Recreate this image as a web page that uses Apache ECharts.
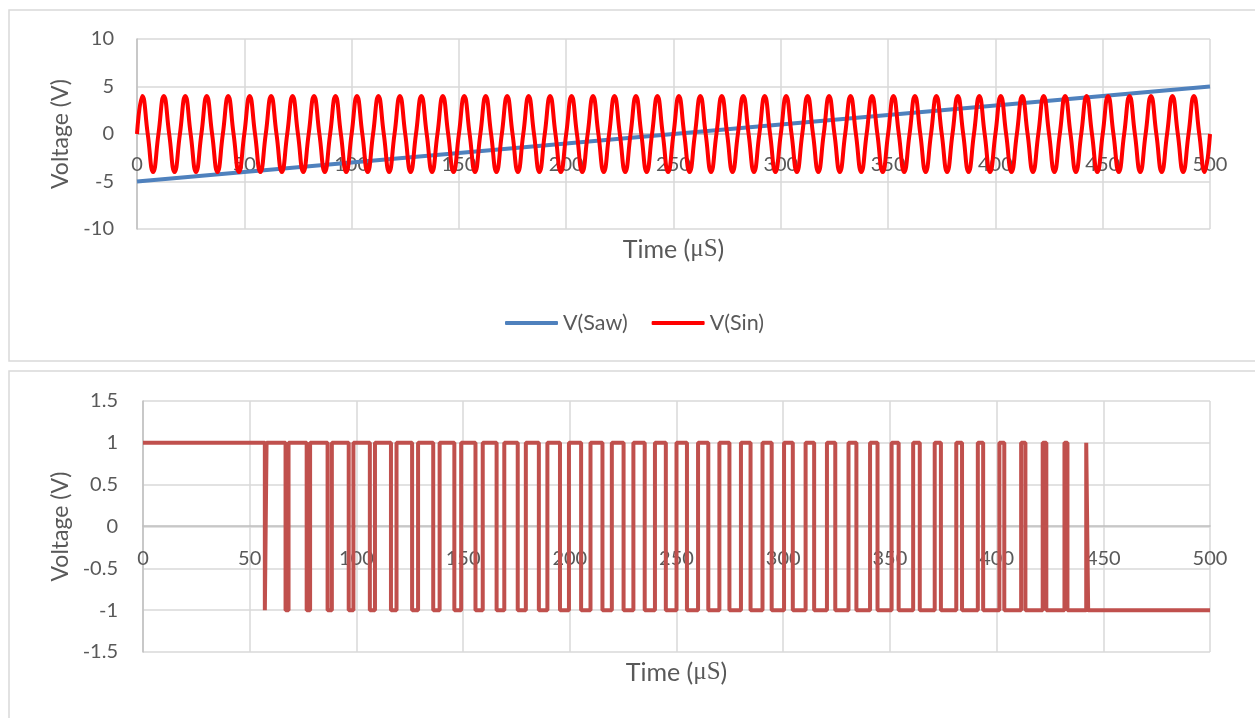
<!DOCTYPE html>
<html>
<head>
<meta charset="utf-8">
<script src="https://cdn.jsdelivr.net/npm/echarts@6/dist/echarts.min.js"></script>
<style>
  html, body { margin: 0; padding: 0; background: #ffffff; }
  #chart { width: 1255px; height: 718px; }
</style>
</head>
<body>
<div id="chart"></div>
<script>
// ---- data ----
const seriesNames = ['V(Saw)', 'V(Sin)'];

// sawtooth ramp: endpoints (time in µs, volts)
const sawTime = [0, 500];
const sawValues = [-5, 5];

// sine samples, one every quarter period (2.5 µs), 50 cycles over 0..500 µs
const sinStep = 2.5;
const sinValues = [
  0,4,0,-4, 0,4,0,-4, 0,4,0,-4, 0,4,0,-4, 0,4,0,-4,
  0,4,0,-4, 0,4,0,-4, 0,4,0,-4, 0,4,0,-4, 0,4,0,-4,
  0,4,0,-4, 0,4,0,-4, 0,4,0,-4, 0,4,0,-4, 0,4,0,-4,
  0,4,0,-4, 0,4,0,-4, 0,4,0,-4, 0,4,0,-4, 0,4,0,-4,
  0,4,0,-4, 0,4,0,-4, 0,4,0,-4, 0,4,0,-4, 0,4,0,-4,
  0,4,0,-4, 0,4,0,-4, 0,4,0,-4, 0,4,0,-4, 0,4,0,-4,
  0,4,0,-4, 0,4,0,-4, 0,4,0,-4, 0,4,0,-4, 0,4,0,-4,
  0,4,0,-4, 0,4,0,-4, 0,4,0,-4, 0,4,0,-4, 0,4,0,-4,
  0,4,0,-4, 0,4,0,-4, 0,4,0,-4, 0,4,0,-4, 0,4,0,-4,
  0,4,0,-4, 0,4,0,-4, 0,4,0,-4, 0,4,0,-4, 0,4,0,-4,
  0
];

// comparator output: starts high, toggles at each of these times (µs)
const pwmStartLevel = 1;
const pwmEnd = 500;
const pwmEdges = [
  57.1, 57.9,   66.8, 68.2,   76.7, 78.3,   86.5, 88.5,   96.4, 98.6,
  106.3, 108.7, 116.2, 118.8, 126.1, 128.9, 136.0, 139.0, 145.9, 149.1,
  155.8, 159.2, 165.7, 169.3, 175.6, 179.4, 185.5, 189.5, 195.4, 199.6,
  205.3, 209.7, 215.3, 219.7, 225.2, 229.8, 235.1, 239.9, 245.0, 250.0,
  254.9, 260.1, 264.9, 270.1, 274.8, 280.2, 284.7, 290.3, 294.6, 300.4,
  304.5, 310.5, 314.5, 320.5, 324.4, 330.6, 334.3, 340.7, 344.2, 350.8,
  354.1, 360.9, 364.0, 371.0, 373.9, 381.1, 383.8, 391.2, 393.7, 401.3,
  403.6, 411.5, 413.5, 421.6, 423.3, 431.8, 433.2, 442.0, 442.9
];

// ---- build series points ----
const sawData = sawTime.map((t, i) => [t, sawValues[i]]);
const sinData = sinValues.map((v, i) => [i * sinStep, v]);

const pwmData = [[0, pwmStartLevel]];
let level = pwmStartLevel;
pwmEdges.forEach(t => {
  pwmData.push([t, level]);
  level = -level;
  pwmData.push([t, level]);
});
pwmData.push([pwmEnd, level]);

// ---- styling ----
const FONT = 'Lato, "Noto Sans", sans-serif';
const SERIF = '"Liberation Serif", "DejaVu Serif", serif';
const TEXT = '#595959';
const GRID_LINE = '#d9d9d9';
const AXIS_LINE = '#bfbfbf';

// time axis drawn across the 0 V level of its panel (offset lifts it from the bottom edge)
function timeAxis(gridIndex, zeroOffset, labelMargin, nameGap) {
  return {
    gridIndex: gridIndex,
    type: 'value',
    position: 'bottom',
    offset: zeroOffset,
    min: 0, max: 500, interval: 50,
    axisLine: { show: true, onZero: false, lineStyle: { color: AXIS_LINE, width: 1.5 } },
    axisTick: { show: false },
    axisLabel: { color: TEXT, fontSize: 20, fontFamily: FONT, margin: labelMargin },
    splitLine: { show: true, lineStyle: { color: GRID_LINE, width: 1.5 } },
    name: 'Time ({m|μS})',
    nameLocation: 'middle',
    nameGap: nameGap,
    nameTextStyle: {
      color: TEXT, fontSize: 25, fontFamily: FONT,
      rich: { m: { color: TEXT, fontSize: 25, fontFamily: SERIF } }
    }
  };
}

function voltAxis(gridIndex, min, max, interval, labelMargin, nameGap) {
  return {
    gridIndex: gridIndex,
    type: 'value',
    min: min, max: max, interval: interval,
    axisLine: { show: true, onZero: false, lineStyle: { color: AXIS_LINE, width: 1.5 } },
    axisTick: { show: false },
    axisLabel: { color: TEXT, fontSize: 20, fontFamily: FONT, margin: labelMargin },
    splitLine: { show: true, lineStyle: { color: GRID_LINE, width: 1.5 } },
    name: 'Voltage (V)',
    nameLocation: 'middle',
    nameGap: nameGap,
    nameTextStyle: { color: TEXT, fontSize: 23, fontFamily: FONT }
  };
}

const chart = echarts.init(document.getElementById('chart'), null, { renderer: 'canvas' });

chart.setOption({
  backgroundColor: '#ffffff',
  animation: false,
  graphic: [
    { type: 'rect', silent: true, z: -10,
      shape: { x: 9, y: 10, width: 1260, height: 351 },
      style: { fill: 'none', stroke: GRID_LINE, lineWidth: 1.5 } },
    { type: 'rect', silent: true, z: -10,
      shape: { x: 9, y: 371, width: 1260, height: 360 },
      style: { fill: 'none', stroke: GRID_LINE, lineWidth: 1.5 } }
  ],
  legend: {
    data: seriesNames,
    left: 505,
    top: 312,
    padding: 0,
    itemGap: 24,
    itemWidth: 53,
    itemHeight: 4,
    icon: 'roundRect',
    textStyle: { color: TEXT, fontSize: 21.5, fontFamily: FONT }
  },
  grid: [
    { left: 137, right: 45, top: 39, height: 190 },
    { left: 143, right: 45, top: 401, height: 251 }
  ],
  xAxis: [
    timeAxis(0, -95, 21, 103),
    timeAxis(1, -126, 23, 134)
  ],
  yAxis: [
    voltAxis(0, -10, 10, 5, 23, 64),
    voltAxis(1, -1.5, 1.5, 0.5, 25, 70)
  ],
  series: [
    {
      name: seriesNames[0], type: 'line', xAxisIndex: 0, yAxisIndex: 0,
      data: sawData, showSymbol: false, symbol: 'none',
      lineStyle: { color: '#4f81bd', width: 4 }, itemStyle: { color: '#4f81bd' }
    },
    {
      name: seriesNames[1], type: 'line', xAxisIndex: 0, yAxisIndex: 0,
      data: sinData, showSymbol: false, symbol: 'none', smooth: 0.5,
      lineStyle: { color: '#ff0000', width: 4 }, itemStyle: { color: '#ff0000' }
    },
    {
      name: 'V(Out)', type: 'line', xAxisIndex: 1, yAxisIndex: 1,
      data: pwmData, showSymbol: false, symbol: 'none',
      lineStyle: { color: '#c0504d', width: 4 }, itemStyle: { color: '#c0504d' }
    }
  ]
});
</script>
</body>
</html>
